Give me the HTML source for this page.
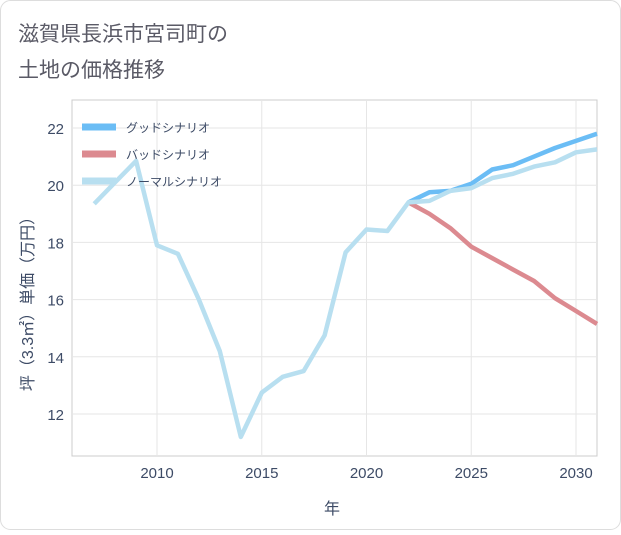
<!DOCTYPE html>
<html><head><meta charset="utf-8"><style>
body{margin:0;background:#fff;font-family:"Liberation Sans","Noto Sans CJK JP",sans-serif;}
#wrap{position:relative;width:621px;height:530px;}
</style></head><body>
<div id="wrap">
<svg id="chart" width="621" height="530" xmlns="http://www.w3.org/2000/svg">
<rect x="0.5" y="0.5" width="620" height="529" rx="10" fill="#fff" stroke="#ddd"/>
<text x="18" y="41" font-size="21" fill="#5a5a66" font-family="Liberation Sans, Noto Sans CJK JP, sans-serif">滋賀県長浜市宮司町の</text>
<text x="18" y="77" font-size="21" fill="#5a5a66" font-family="Liberation Sans, Noto Sans CJK JP, sans-serif">土地の価格推移</text>
<g id="grid"></g><g id="axes"></g><g id="lines"></g><g id="legend"></g>
<text x="332" y="514" font-size="16" fill="#3d4b66" text-anchor="middle" font-family="Liberation Sans, Noto Sans CJK JP, sans-serif">年</text>
<text transform="translate(33,300) rotate(-90)" font-size="16" fill="#3d4b66" text-anchor="middle" font-family="Liberation Sans, Noto Sans CJK JP, sans-serif">坪（3.3㎡）単価（万円）</text>
</svg></div>
<script>
const years=[2007,2008,2009,2010,2011,2012,2013,2014,2015,2016,2017,2018,2019,2020,2021,2022,2023,2024,2025,2026,2027,2028,2029,2030,2031];
const normal=[19.35,20.1,20.85,17.9,17.6,16.0,14.2,11.2,12.75,13.3,13.5,14.75,17.65,18.45,18.4,19.4,19.45,19.8,19.9,20.25,20.4,20.65,20.8,21.15,21.25];
const futYears=[2022,2023,2024,2025,2026,2027,2028,2029,2030,2031];
const good=[19.4,19.75,19.8,20.05,20.55,20.7,21.0,21.3,21.55,21.8];
const bad=[19.4,19.0,18.5,17.85,17.45,17.05,16.65,16.05,15.6,15.15];
const xTicks=[2010,2015,2020,2025,2030];
const yTicks=[12,14,16,18,20,22];
const legendLabels=["グッドシナリオ","バッドシナリオ","ノーマルシナリオ"];
const NS="http://www.w3.org/2000/svg";
const L=72,R=597,T=100,B=456;
const x=v=>157+(v-2010)*(576-157)/20;
const y=v=>414-(v-12)*(414-128)/10;
function mk(tag,attrs,parent){const e=document.createElementNS(NS,tag);for(const k in attrs)e.setAttribute(k,attrs[k]);document.getElementById(parent).appendChild(e);return e;}
const bg=mk('rect',{x:L,y:T,width:R-L,height:B-T,fill:'#fff',stroke:'#ccc'},'grid');


xTicks.forEach(t=>{const g=mk('line',{x1:x(t),x2:x(t),y1:T,y2:B,stroke:'#e6e6e6'},'grid');


const tx=mk('text',{x:x(t),y:478,'font-size':15,fill:'#3d4b66','text-anchor':'middle'},'axes');tx.textContent=t;

});
yTicks.forEach(t=>{const g=mk('line',{x1:L,x2:R,y1:y(t),y2:y(t),stroke:'#e6e6e6'},'grid');


const tx=mk('text',{x:64,y:y(t)+6,'font-size':15,fill:'#3d4b66','text-anchor':'end'},'axes');tx.textContent=t;

});
function path(xs,vs){return xs.map((v,i)=>(i?'L':'M')+x(v).toFixed(1)+','+y(vs[i]).toFixed(1)).join('');}
const series=[[futYears,good,'#6bbdf5','good-line'],[futYears,bad,'#dc8a90','bad-line'],[years,normal,'#b8dff0','normal-line']];
series.forEach(s=>{const p=mk('path',{d:path(s[0],s[1]),fill:'none',stroke:s[2],'stroke-width':4.5,'stroke-linejoin':'round'},'lines');

});
series.forEach((s,i)=>{const ly=127+i*27;
const l=mk('line',{x1:82,x2:116,y1:ly,y2:ly,stroke:s[2],'stroke-width':7},'legend');


const t=mk('text',{x:126,y:ly+5,'font-size':12,fill:'#3d4b66'},'legend');t.textContent=legendLabels[i];

});
</script>
</body></html>
